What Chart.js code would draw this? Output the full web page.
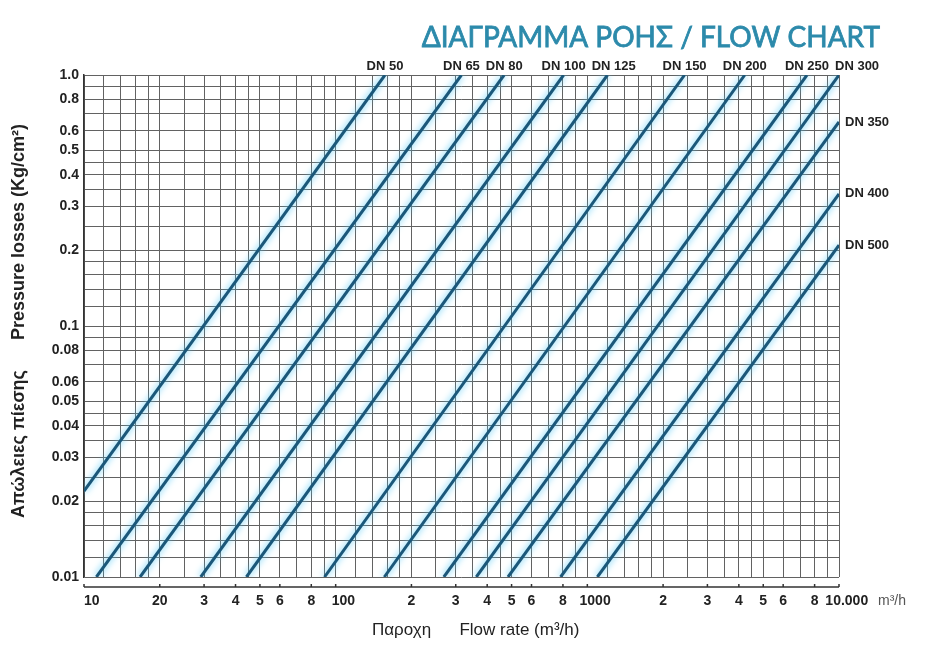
<!DOCTYPE html>
<html>
<head>
<meta charset="utf-8">
<title>Flow chart</title>
<script src="https://cdn.jsdelivr.net/npm/chart.js@4.4.0/dist/chart.umd.min.js"></script>
<style>
  html, body { margin: 0; padding: 0; background: #fff; }
  #wrap { width: 925px; height: 646px; }
</style>
</head>
<body>
<div id="wrap"><canvas id="flow-chart" width="925" height="646"></canvas></div>
<script>
// pipe sizes and the two ends of every line (flow m3/h, loss kg/cm2)
const dnNames = ['DN 50', 'DN 65', 'DN 80', 'DN 100', 'DN 125', 'DN 150', 'DN 200', 'DN 250', 'DN 300', 'DN 350', 'DN 400', 'DN 500'];
const flowStart = [10, 11.2, 16.7, 29.1, 44.2, 90.3, 156, 269, 362, 484, 783, 1096];
const lossStart = [0.022, 0.01, 0.01, 0.01, 0.01, 0.01, 0.01, 0.01, 0.01, 0.01, 0.01, 0.01];
const flowEnd = [157, 316, 467, 805, 1202, 2434, 4223, 7460, 10000, 10000, 10000, 10000];
const lossEnd = [1, 1, 1, 1, 1, 1, 1, 1, 1, 0.65, 0.336, 0.21];

// grid lines and the labels printed on them
const flowGrid = [];
const lossGrid = [];
const steps = [1, 1.2, 1.4, 1.6, 1.8, 2, 2.5, 3, 3.5, 4, 4.5, 5, 6, 7, 8, 9];
[10, 100, 1000].forEach(d => steps.forEach(s => flowGrid.push(+(s * d).toFixed(1))));
flowGrid.push(10000);
[0.01, 0.1].forEach(d => steps.forEach(s => lossGrid.push(+(s * d).toFixed(4))));
lossGrid.push(1);

const flowTicks = [10, 20, 30, 40, 50, 60, 80, 100, 200, 300, 400, 500, 600, 800, 1000, 2000, 3000, 4000, 5000, 6000, 8000, 10000];
const flowTickLabels = ['10', '20', '3', '4', '5', '6', '8', '100', '2', '3', '4', '5', '6', '8', '1000', '2', '3', '4', '5', '6', '8', '10.000'];
const lossTicks = [0.01, 0.02, 0.03, 0.04, 0.05, 0.06, 0.08, 0.1, 0.2, 0.3, 0.4, 0.5, 0.6, 0.8, 1];
const lossTickLabels = ['0.01', '0.02', '0.03', '0.04', '0.05', '0.06', '0.08', '0.1', '0.2', '0.3', '0.4', '0.5', '0.6', '0.8', '1.0'];

const lineColor = '#1b5779';
const gridColor = '#626262';
const textColor = '#222';
const fontFamily = '"Liberation Sans", Arial, sans-serif';

const labelFor = (value, ticks, labels) => {
  const i = ticks.findIndex(t => Math.abs(t - value) / t < 1e-6);
  return i < 0 ? '' : labels[i];
};

const datasets = dnNames.map((name, i) => ({
  label: name,
  data: [{ x: flowStart[i], y: lossStart[i] }, { x: flowEnd[i], y: lossEnd[i] }],
  borderColor: lineColor,
  borderWidth: 3,
  pointRadius: 0,
  fill: false,
  tension: 0
}));

// light cyan halo round the lines
const haloPlugin = {
  id: 'halo',
  beforeDatasetsDraw(chart) {
    const ctx = chart.ctx;
    ctx.save();
    ctx.shadowColor = 'rgba(80, 200, 245, 1)';
    ctx.shadowBlur = 7;
  },
  afterDatasetsDraw(chart) {
    chart.ctx.restore();
  }
};

// title, DN labels, separate x axis line and unit
const extrasPlugin = {
  id: 'extras',
  afterDraw(chart) {
    const { ctx, chartArea, scales } = chart;
    const x = scales.x;
    const y = scales.y;
    ctx.save();

    const title = 'ΔΙΑΓΡΑΜΜΑ ΡΟΗΣ / FLOW CHART';
    ctx.fillStyle = '#2c8aab';
    ctx.strokeStyle = '#2c8aab';
    ctx.lineWidth = 0.8;
    ctx.font = '28px Lato, "Noto Sans", sans-serif';
    ctx.textAlign = 'right';
    ctx.textBaseline = 'middle';
    ctx.fillText(title, 880, 38);
    ctx.strokeText(title, 880, 38);

    ctx.fillStyle = textColor;
    ctx.font = 'bold 13px ' + fontFamily;
    ctx.textBaseline = 'middle';
    let lastRight = -Infinity;
    dnNames.forEach((name, i) => {
      const px = x.getPixelForValue(flowEnd[i]);
      const py = y.getPixelForValue(lossEnd[i]);
      const w = ctx.measureText(name).width;
      if (lossEnd[i] >= 1) {
        // top labels sit over the line end, pushed right if they would touch the previous one
        let left = px - w / 2;
        if (left < lastRight + 6) left = lastRight + 6;
        lastRight = left + w;
        ctx.textAlign = 'left';
        ctx.fillText(name, left, chartArea.top - 9);
      } else {
        ctx.textAlign = 'left';
        ctx.fillText(name, chartArea.right + 6, py);
      }
    });

    const axisY = chartArea.bottom + 10;
    ctx.strokeStyle = '#333';
    ctx.lineWidth = 1.5;
    ctx.beginPath();
    ctx.moveTo(chartArea.left, axisY);
    ctx.lineTo(chartArea.right, axisY);
    flowTicks.forEach(v => {
      const px = x.getPixelForValue(v);
      ctx.moveTo(px, axisY);
      ctx.lineTo(px, axisY - 3);
    });
    ctx.stroke();

    ctx.fillStyle = '#555';
    ctx.font = '14px ' + fontFamily;
    ctx.textAlign = 'left';
    ctx.fillText('m³/h', chartArea.right + 39, chartArea.bottom + 24);
    ctx.restore();
  }
};

const chart = new Chart(document.getElementById('flow-chart'), {
  type: 'line',
  data: { datasets: datasets },
  plugins: [haloPlugin, extrasPlugin],
  options: {
    responsive: false,
    animation: false,
    devicePixelRatio: 1,
    layout: { padding: { top: 75, right: 86, left: 0, bottom: 0 } },
    plugins: {
      legend: { display: false },
      title: { display: false },
      tooltip: { enabled: false }
    },
    scales: {
      x: {
        type: 'logarithmic',
        min: 10,
        max: 10000,
        afterFit: scale => { scale.height = 69; },
        afterBuildTicks: scale => { scale.ticks = flowGrid.map(v => ({ value: v })); },
        border: { display: false },
        grid: { color: gridColor, lineWidth: 1, drawTicks: false },
        ticks: {
          autoSkip: false,
          maxRotation: 0,
          padding: 16,
          color: textColor,
          font: { family: fontFamily, size: 14, weight: 'bold' },
          callback: value => {
            const s = labelFor(value, flowTicks, flowTickLabels);
            // the decade labels start at their tick rather than centre on it
            return s.length > 1 && s[0] === '1' ? '    ' + s : s;
          }
        },
        title: {
          display: true,
          text: '      Παροχη      Flow rate (m³/h)',
          color: textColor,
          padding: 5,
          font: { family: fontFamily, size: 17 }
        }
      },
      y: {
        type: 'logarithmic',
        min: 0.01,
        max: 1,
        afterFit: scale => { scale.width = 84; },
        afterBuildTicks: scale => { scale.ticks = lossGrid.map(v => ({ value: v })); },
        border: { display: true, color: '#333', width: 1.5 },
        grid: { color: gridColor, lineWidth: 1, drawTicks: false },
        ticks: {
          autoSkip: false,
          padding: 5,
          color: textColor,
          font: { family: fontFamily, size: 14, weight: 'bold' },
          callback: value => labelFor(value, lossTicks, lossTickLabels)
        },
        title: {
          display: true,
          text: '  Απώλειες πίεσης      Pressure losses (Kg/cm²)',
          color: textColor,
          padding: 8,
          font: { family: fontFamily, size: 18, weight: 'bold' }
        }
      }
    }
  }
});
</script>
</body>
</html>
